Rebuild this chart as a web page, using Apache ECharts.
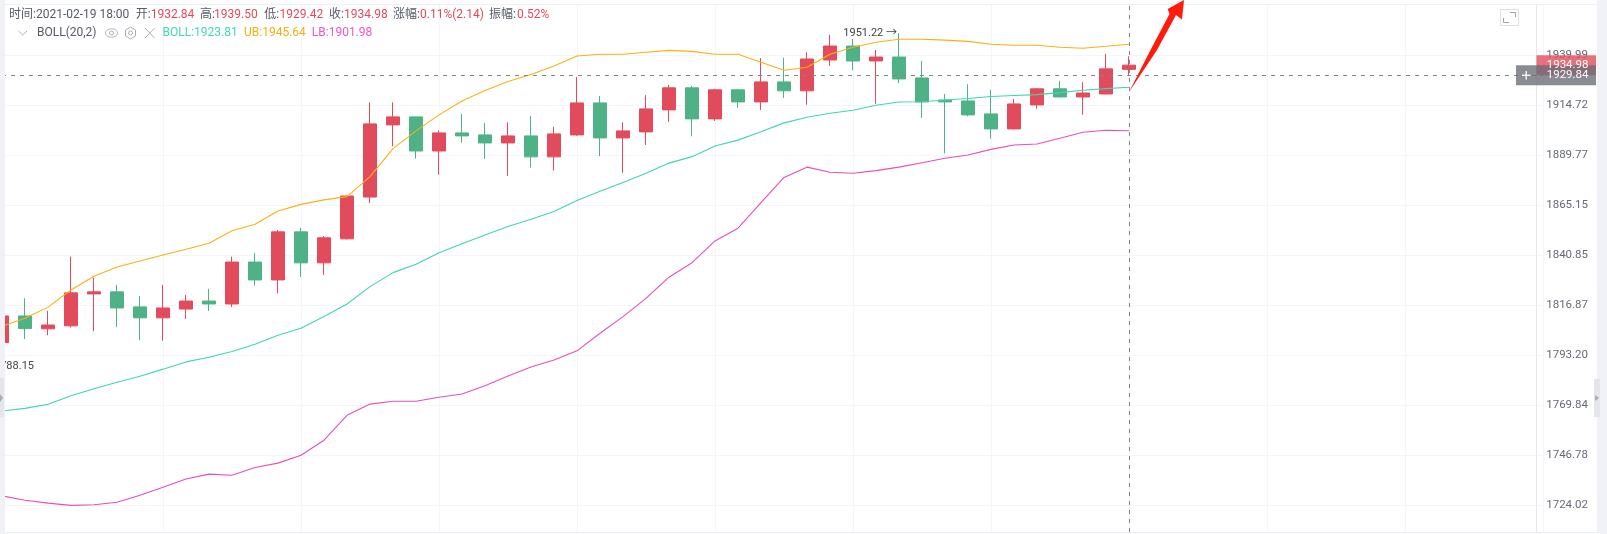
<!DOCTYPE html>
<html><head><meta charset="utf-8">
<style>html,body{margin:0;padding:0;background:#fff}#c{width:1607px;height:534px}</style>
<script src="https://cdn.jsdelivr.net/npm/echarts@6/dist/echarts.min.js"></script>
</head><body><div id="c"></div>
<script>
const opens=[1799.2,1811.8,1805.7,1807.1,1822.3,1823.3,1816.1,1810.9,1815.1,1818.9,1817.5,1837.6,1829.0,1852.2,1837.2,1848.8,1869.2,1904.9,1908.9,1891.9,1900.9,1899.9,1895.9,1899.4,1889.0,1899.9,1915.9,1898.4,1901.4,1912.4,1923.5,1907.9,1922.5,1916.4,1926.5,1922.0,1937.6,1944.7,1937.1,1939.1,1928.5,1917.4,1916.9,1910.4,1902.9,1914.9,1923.0,1918.9,1920.4,1932.84];
const closes=[1811.8,1805.8,1807.5,1822.8,1823.3,1815.6,1810.9,1815.6,1818.9,1817.5,1837.6,1829.0,1852.2,1837.2,1849.3,1869.7,1905.4,1908.9,1891.9,1900.9,1899.4,1895.9,1899.4,1889.0,1900.4,1915.9,1898.4,1901.9,1912.9,1923.5,1907.9,1922.5,1916.4,1926.5,1922.0,1938.1,1944.7,1937.1,1939.1,1928.0,1916.4,1916.4,1909.9,1902.9,1915.4,1923.0,1918.9,1920.9,1933.1,1934.98];
const lows=[1797,1800.9,1802.7,1806.3,1804.6,1806.6,1800.3,1800.1,1810.4,1814.2,1816.1,1826.3,1822.6,1830.4,1831.4,1848.5,1866.3,1894.2,1888.1,1880.2,1896.0,1888.0,1879.6,1883.7,1882.2,1899.5,1889.3,1881.1,1894.9,1906.4,1899.2,1906.9,1913.4,1912.4,1918.4,1915.0,1934.6,1932.4,1915.4,1925.8,1908.4,1890.7,1909.2,1898.0,1902.7,1913.0,1918.7,1910.0,1920.2,1929.42];
const highs=[1814,1820.2,1814.2,1840.2,1830.0,1826.6,1821.3,1826.6,1821.8,1824.7,1840.2,1842.0,1853.1,1854.1,1850.2,1869.9,1916.2,1916.2,1909.0,1902.2,1910.4,1905.9,1906.2,1909.4,1903.9,1929.0,1919.4,1906.2,1919.8,1925.0,1924.5,1923.0,1923.0,1938.6,1938.8,1941.5,1950.4,1948.3,1942.7,1951.22,1937.1,1920.4,1925.3,1922.5,1917.9,1923.5,1927.0,1926.4,1940.7,1939.50];
const ubBand=[1806.9,1810.7,1816.0,1824.2,1830.8,1835.2,1838.1,1841.0,1843.8,1846.7,1852.7,1855.9,1862.4,1865.6,1867.8,1869.4,1879.2,1893.1,1901.9,1909.9,1916.9,1922.1,1926.7,1930.2,1934.6,1939.6,1940.5,1940.5,1941.5,1942.5,1942.0,1940.5,1940.5,1936.5,1932.4,1933.9,1940.5,1944.1,1946.6,1948.2,1948.2,1947.7,1947.1,1945.6,1945.1,1945.1,1944.1,1943.6,1944.6,1945.64];
const midBand=[1767.2,1768.4,1770.3,1774.3,1777.5,1780.6,1783.4,1786.7,1790.1,1792.3,1795.0,1798.4,1802.7,1806.0,1811.5,1817.5,1825.8,1832.5,1836.5,1842.1,1846.4,1850.7,1854.8,1858.3,1862.1,1867.5,1872.0,1876.3,1880.9,1885.9,1889.1,1894.4,1897.3,1901.5,1905.9,1908.7,1910.7,1912.2,1914.7,1916.4,1916.5,1917.4,1918.1,1919.1,1919.6,1920.1,1921.1,1922.3,1923.1,1923.81];
const lbBand=[1728.3,1726.3,1725.0,1724.0,1724.3,1725.4,1728.6,1732.2,1736.0,1738.2,1737.7,1741.2,1743.2,1746.8,1753.7,1765.2,1770.4,1771.7,1771.7,1773.6,1775.1,1778.9,1783.5,1787.7,1791.0,1795.3,1803.6,1811.5,1820.2,1830.3,1837.3,1847.8,1854.0,1866.4,1878.8,1883.9,1881.4,1880.9,1882.2,1883.9,1886.1,1888.3,1889.9,1892.7,1894.9,1895.4,1898.2,1901.2,1902.2,1901.98];
const priceTicks=[1724.02,1746.78,1769.84,1793.20,1816.87,1840.85,1865.15,1889.77,1914.72,1939.99];
const lastClose=1934.98, crossPrice=1929.84, crossIndex=49, maxHigh=1951.22, minLow=1788.15;
const categories=Array.from({length:68},(_,i)=>String(i));

const RED='#e24b5b',GREEN='#4fb286',FONT='Roboto,"Noto Sans CJK SC",sans-serif';
const chart=echarts.init(document.getElementById('c'),null,{renderer:'canvas'});
const lineS=(name,data,color)=>({name,type:'line',data,symbol:'none',smooth:false,silent:true,z:3,lineStyle:{color,width:1.1}});
chart.setOption({
  animation:false,
  textStyle:{fontFamily:FONT},
  grid:{left:2,top:4.5,width:1541,height:527.5,containLabel:false},
  xAxis:{type:'category',boundaryGap:false,data:categories,axisLabel:{show:false},axisTick:{show:false},
    axisLine:{onZero:false,lineStyle:{color:'#e8eaee'}},
    splitLine:{show:true,interval:(i)=>i>1&&(i-1)%6===0,lineStyle:{color:'#f3f5f8',width:1}}},
  yAxis:{type:'log',logBase:Math.E,min:1712,max:1966,position:'right',offset:-6.8,scale:true,
    axisLine:{show:true,onZero:false,lineStyle:{color:'#e4e7ec'}},
    axisTick:{show:false,customValues:priceTicks},
    axisLabel:{customValues:priceTicks,color:'#666a74',fontSize:11.5,margin:10,formatter:v=>(+v).toFixed(2)},
    splitLine:{show:true,lineStyle:{color:'#f3f5f8',width:1}}},
  series:[
    {type:'candlestick',z:2,barWidth:14,data:opens.map((o,i)=>[o,closes[i],lows[i],highs[i]]),
      itemStyle:{color:RED,color0:GREEN,borderColor:RED,borderColor0:GREEN,borderWidth:1},
      markPoint:{symbol:'circle',symbolSize:0,silent:true,animation:false,data:[
        {coord:[39,maxHigh],label:{show:true,position:'left',distance:2,formatter:maxHigh.toFixed(2)+' →',color:'#444',fontSize:11}},
        {coord:[0,minLow],label:{show:true,position:'right',distance:-8,formatter:minLow.toFixed(2),color:'#444',fontSize:11}}
      ]},
      markLine:{symbol:'none',silent:true,animation:false,label:{show:false},
        lineStyle:{color:'#7f858f',type:[4,5],width:1},
        data:[{xAxis:crossIndex},{yAxis:crossPrice}]}},
    lineS('BOLL',midBand,'#3dd6b5'),
    lineS('UB',ubBand,'#fbb010'),
    lineS('LB',lbBand,'#e94dbf')
  ]
});

const yOf=p=>chart.convertToPixel({yAxisIndex:0},p);
const TXT='#555a64',ICON='#a9adb6';
const t=(x,y,text,fill,size)=>({type:'text',z:1000,style:{x,y,text,fill,font:(size||12)+'px '+FONT,textVerticalAlign:'middle',verticalAlign:'middle'}});
const r=(x,y,w,h,fill)=>({type:'rect',z:900,shape:{x,y,width:w,height:h},style:{fill}});
const l=(x1,y1,x2,y2,stroke,w)=>({type:'line',z:950,shape:{x1,y1,x2,y2},style:{stroke,lineWidth:w||1}});
const yC=yOf(lastClose), yX=yOf(crossPrice);
const info=[[9,'时间:2021-02-19 18:00',TXT],[135.7,'开:',TXT],[150.7,'1932.84',RED],[200,'高:',TXT],[214,'1939.50',RED],[264.3,'低:',TXT],[279.6,'1929.42',RED],[329,'收:',TXT],[344,'1934.98',RED],[393,'涨幅:',TXT],[420,'0.11%(2.14)',RED],[489,'振幅:',TXT],[517,'0.52%',RED]];
const els=[
  r(0,0,5,534,'#f0f2f7'), r(1597,0,10,534,'#f0f2f7'),
  r(0,378,4,39,'#e4e6eb'), r(1594,379,6,38,'#e4e6eb'),
  {type:'polygon',z:950,shape:{points:[[0,394],[3,398],[0,402]]},style:{fill:'#a9adb6'}},
  {type:'polygon',z:950,shape:{points:[[1595,395],[1599,398],[1595,401]]},style:{fill:'#a9adb6'}},
  l(5,4.5,1597,4.5,'#eef0f4'), l(5,532.5,1597,532.5,'#e8eaee'),
  r(1536.5,yC-10,59.5,20,'rgba(226,75,91,0.8)'),
  t(1546.7,yC,lastClose.toFixed(2),'#fff',11.5),
  r(1516,yX-10,80,20,'rgba(105,108,116,0.78)'),
  t(1546.7,yX,crossPrice.toFixed(2),'#fff',11.5),
  l(1522,yX,1530.5,yX,'#fff',1.3), l(1526.2,yX-4.2,1526.2,yX+4.2,'#fff',1.3),
  {type:'polygon',z:980,shape:{points:[[1129,92],[1150.5,50],[1169.5,14],[1167.7,9],[1184,0],[1182,19.5],[1176,15],[1157,50]]},style:{fill:'#ff1a0a'}},
  {type:'rect',z:900,shape:{x:1500.5,y:9.5,width:18,height:16},style:{fill:'#fff',stroke:'#dcdee2',lineWidth:1}},
  {type:'polyline',z:950,shape:{points:[[1510,12.5],[1515.5,12.5],[1515.5,17]]},style:{fill:'none',stroke:'#9ca0a8'}},
  {type:'polyline',z:950,shape:{points:[[1503.5,18],[1503.5,22.5],[1509,22.5]]},style:{fill:'none',stroke:'#9ca0a8'}},
  {type:'polyline',z:950,shape:{points:[[18.5,31],[22.7,35],[27,31]]},style:{fill:'none',stroke:ICON}},
  t(37,32.7,'BOLL(20,2)',TXT),
  {type:'ellipse',z:950,shape:{cx:111.5,cy:33,rx:6,ry:4.2},style:{fill:'none',stroke:ICON}},
  {type:'circle',z:950,shape:{cx:111.5,cy:33,r:2},style:{fill:'none',stroke:ICON}},
  {type:'polygon',z:950,shape:{points:[[130.5,27],[135.5,30],[135.5,36],[130.5,39],[125.5,36],[125.5,30]]},style:{fill:'none',stroke:ICON}},
  {type:'circle',z:950,shape:{cx:130.5,cy:33,r:2},style:{fill:'none',stroke:ICON}},
  l(145,28,154.5,38,ICON), l(154.5,28,145,38,ICON),
  t(162.5,32.7,'BOLL:'+midBand[49].toFixed(2),'#3fd9b8'),
  t(244,32.7,'UB:'+ubBand[49].toFixed(2),'#f5b00f'),
  t(311.8,32.7,'LB:'+lbBand[49].toFixed(2),'#f055c8')
].concat(info.map(a=>t(a[0],14.7,a[1],a[2])));
chart.setOption({graphic:{elements:els}});
</script></body></html>
